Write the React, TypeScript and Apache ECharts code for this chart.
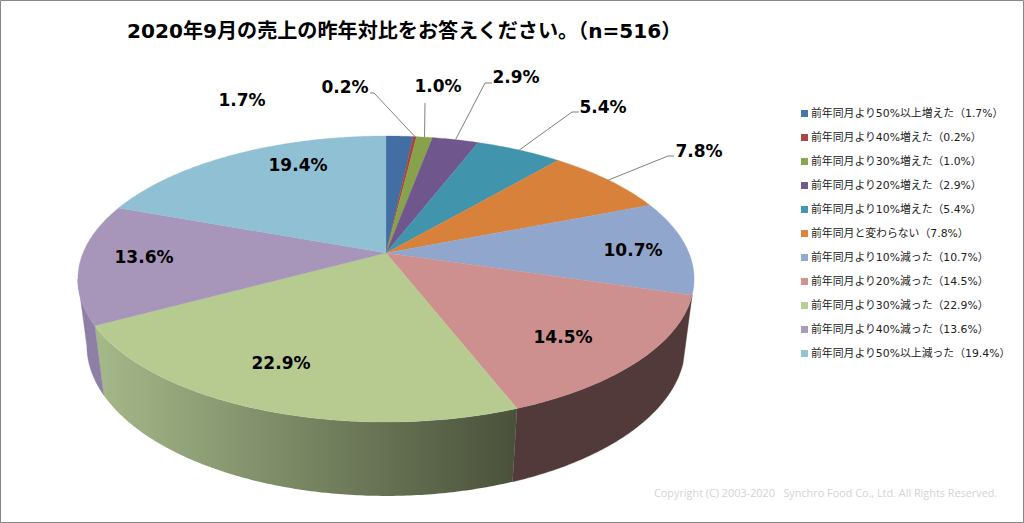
import React, { useEffect, useRef } from "react";
import * as echarts from "echarts";

const categories = [
  "前年同月より50%以上増えた",
  "前年同月より40%増えた",
  "前年同月より30%増えた",
  "前年同月より20%増えた",
  "前年同月より10%増えた",
  "前年同月と変わらない",
  "前年同月より10%減った",
  "前年同月より20%減った",
  "前年同月より30%減った",
  "前年同月より40%減った",
  "前年同月より50%以上減った",
];
const values = [1.7, 0.2, 1.0, 2.9, 5.4, 7.8, 10.7, 14.5, 22.9, 13.6, 19.4];
const titleText = "2020年9月の売上の昨年対比をお答えください。(n=516)";
const copyrightText = "Copyright (C) 2003-2020   Synchro Food Co., Ltd. All Rights Reserved.";

const colors = ["#4675AA", "#AA4644", "#89A54E", "#71588F", "#4298AF", "#DB843D", "#93A9CF", "#D19392", "#B9CD96", "#A99BBD", "#92C3D4"];
const sliceColors = ["#436EA4", "#A64340", "#87A24B", "#6F568C", "#4094AC", "#D8813A", "#91A6CD", "#CE908E", "#B7CB91", "#A796BA", "#90C0D3"];

// Text placement, separate from the data: centre of each value label, and the elbow of its leader line
const labelCentres: [number, number][] = [
  [242, 100], [345, 87], [438, 86], [516, 77], [603, 107], [699, 151],
  [633, 250], [563, 337], [281, 363], [144, 257], [298, 165],
];
const leaderElbows: ([number, number][] | null)[] = [
  null,
  [[370, 93], [374, 93]],
  [[425, 103]],
  [[492, 83], [485, 83]],
  [[579, 112], [572, 112]],
  [[674, 156], [668, 156]],
  null, null, null, null, null,
];

// Perspective model of the disc
const CX = 386, CY = 253, A = 303, B = 138.3, P = 0.1818, DEPTH = 67.5, Q = 0.029;
const project = (theta: number, z: number): [number, number] => {
  const u = Math.sin(theta), v = -Math.cos(theta);
  const w = 1 - P * v + Q * z;
  return [CX + (A * u) / w, CY + (B * v + DEPTH * z) / w];
};
const total = values.reduce((a, b) => a + b, 0);
const angleOf = (acc: number) => (acc / total) * Math.PI * 2;
const startOf = (i: number) => values.slice(0, i).reduce((a, b) => a + b, 0);

const WALL_FROM = angleOf(startOf(7));
const WALL_TO = (259.5 / 180) * Math.PI;

const arc = (a0: number, a1: number, z: number) => {
  const n = Math.max(2, Math.ceil(Math.abs(a1 - a0) / 0.01));
  const pts: [number, number][] = [];
  for (let k = 0; k <= n; k++) pts.push(project(a0 + ((a1 - a0) * k) / n, z));
  return pts;
};

const wallFill = (i: number): any => {
  if (i === 7) return "#533A3A";
  if (i === 9) return "#8D7FA5";
  return new echarts.graphic.LinearGradient(0, 0, 1, 0, [
    { offset: 0, color: "#A6B98A" },
    { offset: 1, color: "#49513A" },
  ]);
};

const makeRender = (i: number) => (_params: any, api: any) => {
  const value = api.value(0);
  const a0 = angleOf(startOf(i));
  const a1 = a0 + angleOf(value);
  const children: any[] = [];

  const w0 = Math.max(a0, WALL_FROM);
  const w1 = Math.min(a1, WALL_TO);
  if (w1 > w0) {
    const pts = [...arc(w0, w1, 0), ...arc(w0, w1, 1).reverse()];
    children.push({
      type: "polygon",
      shape: { points: pts },
      style: { fill: wallFill(i), stroke: i === 8 ? undefined : wallFill(i), lineWidth: 0.4 },
    });
  }
  children.push({
    type: "polygon",
    shape: { points: [[CX, CY], ...arc(a0, a1, 0)] },
    style: { fill: sliceColors[i], stroke: sliceColors[i], lineWidth: 0.3 },
  });
  const elbows = leaderElbows[i];
  if (elbows) {
    children.push({
      type: "polyline",
      shape: { points: [...elbows, project((a0 + a1) / 2, 0)] },
      style: { fill: "none", stroke: "#7F7F7F", lineWidth: 1 },
      z2: 5,
    });
  }
  const [lx, ly] = labelCentres[i];
  children.push({
    type: "text",
    x: lx,
    y: ly,
    z2: 10,
    style: {
      text: value.toFixed(1) + "%",
      fill: "#000",
      align: "center",
      verticalAlign: "middle",
      font: 'bold 17px "DejaVu Sans", "Noto Sans CJK JP"',
    },
  });
  return { type: "group", children };
};

export default function App() {
  const ref = useRef<HTMLDivElement>(null);
  useEffect(() => {
    document.body.style.margin = "0";
    const chart = echarts.init(ref.current!, undefined, { renderer: "svg" });
    const names = categories.map((c, i) => `${c}\uFF08${values[i].toFixed(1)}%\uFF09`);
    chart.setOption({
      animation: false,
      backgroundColor: "#fff",
      color: colors,
      title: [
        {
          text: titleText.replace("(", "\uFF08").replace(")", "\uFF09"),
          left: 127,
          top: 21,
          padding: 0,
          textStyle: { fontFamily: '"DejaVu Sans", "Noto Sans CJK JP"', fontSize: 20.1, fontWeight: "bold", color: "#000" },
        },
        {
          text: copyrightText,
          left: 654,
          top: 487,
          padding: 0,
          textStyle: { fontFamily: '"Open Sans"', fontSize: 10.85, fontWeight: "normal", color: "#D3D3D3" },
        },
      ],
      legend: {
        orient: "vertical",
        left: 801,
        top: 107.5,
        padding: 0,
        icon: "rect",
        itemWidth: 7,
        itemHeight: 7,
        itemGap: 12,
        selectedMode: false,
        data: names,
        textStyle: {
          fontFamily: '"DejaVu Sans", "Noto Sans CJK JP"',
          fontSize: 10.85,
          lineHeight: 12,
          color: "#222",
          padding: [0, 0, 0, -2],
        },
      },
      graphic: [
        {
          type: "rect",
          shape: { x: 0.5, y: 0.5, width: 1023, height: 522 },
          style: { fill: "none", stroke: "#868686", lineWidth: 1 },
          silent: true,
        },
      ],
      series: values.map((v, i) => ({
        type: "custom",
        name: names[i],
        coordinateSystem: "none",
        itemStyle: { color: colors[i] },
        data: [[v]],
        renderItem: makeRender(i),
        silent: true,
      })),
    });
    return () => chart.dispose();
  }, []);
  return <div ref={ref} style={{ width: 1024, height: 523 }} />;
}
